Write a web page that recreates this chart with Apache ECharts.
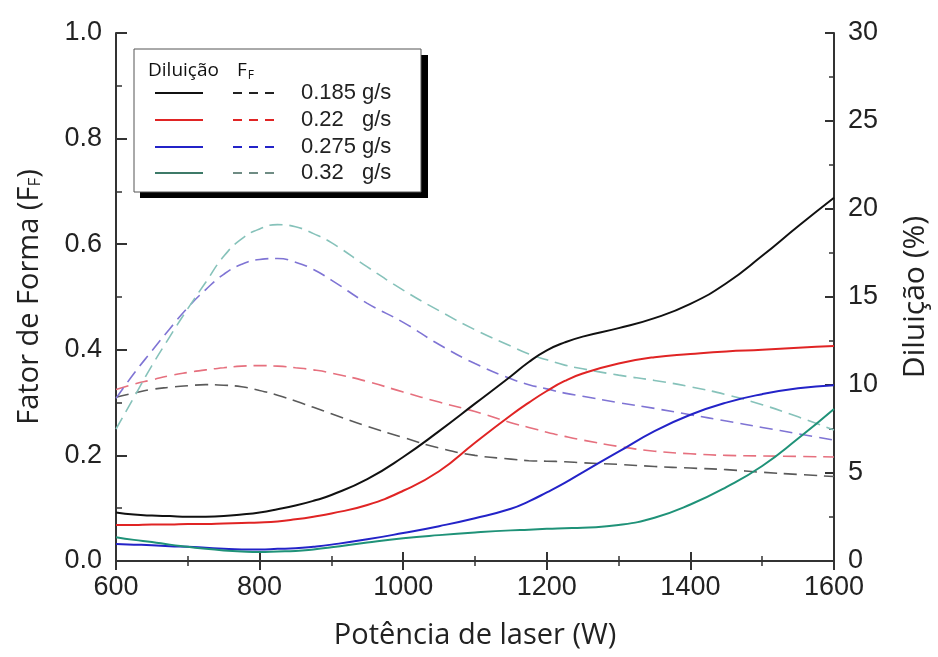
<!DOCTYPE html>
<html>
<head>
<meta charset="utf-8">
<script src="https://cdn.jsdelivr.net/npm/echarts@6/dist/echarts.min.js"></script>
<style>
  html, body { margin: 0; padding: 0; background: #fff; }
  #chart { width: 938px; height: 657px; }
</style>
</head>
<body>
<div id="chart"></div>
<script>
// potencia de laser (W)
var potencia = [600, 625, 650, 675, 700, 725, 750, 775, 800, 825, 850, 875, 900, 950,
                1000, 1050, 1100, 1150, 1175, 1200, 1225, 1250, 1300, 1350, 1400,
                1450, 1500, 1550, 1600];

var dil185 = [0.092, 0.088, 0.086, 0.085, 0.084, 0.084, 0.085, 0.088, 0.092, 0.098, 0.105, 0.114, 0.125, 0.155,
              0.197, 0.246, 0.298, 0.350, 0.377, 0.399, 0.414, 0.425, 0.441, 0.460, 0.487,
              0.526, 0.578, 0.634, 0.688];
var dil22  = [0.068, 0.068, 0.069, 0.069, 0.070, 0.070, 0.071, 0.072, 0.073, 0.075, 0.079, 0.084, 0.090, 0.106,
              0.133, 0.170, 0.224, 0.276, 0.300, 0.322, 0.341, 0.355, 0.374, 0.386, 0.392,
              0.397, 0.400, 0.404, 0.407];
var dil275 = [0.032, 0.031, 0.030, 0.028, 0.027, 0.025, 0.023, 0.022, 0.022, 0.023, 0.024, 0.027, 0.031, 0.041,
              0.053, 0.066, 0.081, 0.099, 0.113, 0.130, 0.148, 0.168, 0.207, 0.246, 0.277,
              0.300, 0.316, 0.327, 0.333];
var dil32  = [0.045, 0.040, 0.036, 0.031, 0.027, 0.023, 0.020, 0.018, 0.017, 0.018, 0.019, 0.022, 0.026, 0.035,
              0.043, 0.049, 0.054, 0.058, 0.059, 0.061, 0.062, 0.063, 0.068, 0.082, 0.107,
              0.140, 0.180, 0.232, 0.288];

// Fator de forma - linhas tracejadas
var ff185 = [0.310, 0.318, 0.325, 0.329, 0.332, 0.334, 0.333, 0.330, 0.323, 0.314, 0.303, 0.291, 0.279, 0.255,
             0.234, 0.214, 0.200, 0.193, 0.190, 0.189, 0.188, 0.186, 0.183, 0.179, 0.176,
             0.173, 0.168, 0.164, 0.160];
var ff22  = [0.325, 0.335, 0.343, 0.351, 0.357, 0.362, 0.366, 0.369, 0.370, 0.369, 0.366, 0.362, 0.356, 0.340,
             0.320, 0.301, 0.283, 0.262, 0.253, 0.244, 0.236, 0.229, 0.217, 0.208, 0.203,
             0.200, 0.199, 0.198, 0.197];
var ff275 = [0.308, 0.355, 0.398, 0.440, 0.480, 0.514, 0.543, 0.562, 0.571, 0.573, 0.566, 0.552, 0.532, 0.488,
             0.452, 0.410, 0.374, 0.345, 0.334, 0.326, 0.318, 0.312, 0.300, 0.289, 0.277,
             0.265, 0.253, 0.241, 0.229];
var ff32  = [0.250, 0.310, 0.370, 0.425, 0.478, 0.528, 0.577, 0.610, 0.629, 0.637, 0.633, 0.620, 0.603, 0.557,
             0.513, 0.474, 0.438, 0.407, 0.392, 0.381, 0.371, 0.364, 0.352, 0.342, 0.330,
             0.315, 0.296, 0.273, 0.248];

var legendLabels = ['0.185', '0.22', '0.275', '0.32'];
var solidColors = ['#111111', '#e02424', '#2323c8', '#1f9278'];
var dashColors = ['#5a5a5a', '#e6707e', '#7f74d4', '#86c2ba'];
var legendDashColors = ['#222222', '#e02424', '#2323c8', '#6f8c84'];
var legendSolidColors = ['#111111', '#e02424', '#2323c8', '#3d7a68'];

// escala direita: 0..30 %  <->  esquerda 0..1
var toPct = function(v) { return +(v * 30).toFixed(2); };

var pairs = function(ys, f) {
  return potencia.map(function(x, i) { return [x, f ? f(ys[i]) : ys[i]]; });
};

var dilSeries = [dil185, dil22, dil275, dil32];
var ffSeries = [ff185, ff22, ff275, ff32];

var series = [];
ffSeries.forEach(function(d, i) {
  series.push({
    name: 'FF ' + legendLabels[i],
    type: 'line',
    yAxisIndex: 0,
    data: pairs(d),
    smooth: 0.5,
    showSymbol: false,
    lineStyle: { color: dashColors[i], width: 1.6, type: [13, 7] },
    itemStyle: { color: dashColors[i] },
    z: 2
  });
});
dilSeries.forEach(function(d, i) {
  series.push({
    name: 'Diluição ' + legendLabels[i],
    type: 'line',
    yAxisIndex: 1,
    data: pairs(d, toPct),
    smooth: 0.5,
    showSymbol: false,
    lineStyle: { color: solidColors[i], width: 2 },
    itemStyle: { color: solidColors[i] },
    z: 3
  });
});

// legenda desenhada como caixa com sombra
var legendItems = [
  { type: 'rect', shape: { x: 140, y: 55, width: 288, height: 143 }, style: { fill: '#000' }, z: 10 },
  { type: 'rect', shape: { x: 134, y: 49, width: 287, height: 143 }, style: { fill: '#fff', stroke: '#555', lineWidth: 1 }, z: 11 },
  { type: 'text', x: 148, y: 71, style: { text: 'Diluição', fontFamily: 'Open Sans', fontSize: 19, fill: '#111', verticalAlign: 'middle' }, z: 12 },
  { type: 'text', x: 237, y: 71, style: {
      text: 'F{s|F}', fontFamily: 'Open Sans', fontSize: 19, fill: '#111', verticalAlign: 'middle',
      rich: { s: { fontSize: 12, fontFamily: 'Open Sans', fill: '#111', padding: [9, 0, 0, 1] } }
    }, z: 12 }
];
var rowY = [93, 120, 147, 173];
legendLabels.forEach(function(lbl, i) {
  legendItems.push({ type: 'line', shape: { x1: 155, y1: rowY[i], x2: 203, y2: rowY[i] },
    style: { stroke: legendSolidColors[i], lineWidth: 2 }, z: 12 });
  legendItems.push({ type: 'line', shape: { x1: 233, y1: rowY[i], x2: 274, y2: rowY[i] },
    style: { stroke: legendDashColors[i], lineWidth: 2, lineDash: [9, 7] }, z: 12 });
  legendItems.push({ type: 'text', x: 301, y: rowY[i], style: { text: lbl, fontFamily: 'Liberation Sans', fontSize: 22, fill: '#222', verticalAlign: 'middle' }, z: 12 });
  legendItems.push({ type: 'text', x: 362, y: rowY[i], style: { text: 'g/s', fontFamily: 'Liberation Sans', fontSize: 22, fill: '#222', verticalAlign: 'middle' }, z: 12 });
});

var axisLineStyle = { color: '#333', width: 2 };
var labelStyle = { fontFamily: 'Liberation Sans', fontSize: 27, color: '#222' };
var nameStyle = { fontFamily: 'Open Sans', fontSize: 29, color: '#222' };

var option = {
  animation: false,
  backgroundColor: '#fff',
  grid: { left: 116, right: 100, top: 33, bottom: 96 },
  xAxis: [{
    type: 'value',
    min: 600, max: 1600, interval: 200,
    name: 'Potência de laser (W)',
    nameLocation: 'middle',
    nameGap: 60,
    nameTextStyle: nameStyle,
    axisLine: { show: true, lineStyle: axisLineStyle },
    axisTick: { show: true, inside: true, length: 9, lineStyle: { color: '#333', width: 2 } },
    minorTick: { show: true, splitNumber: 2, length: 5, lineStyle: { color: '#333', width: 1.5 } },
    axisLabel: Object.assign({ margin: 13, formatter: function(v) { return String(v); } }, labelStyle),
    splitLine: { show: false }
  }, {
    type: 'value',
    position: 'top',
    min: 600, max: 1600, interval: 200,
    axisLine: { show: true, lineStyle: axisLineStyle },
    axisTick: { show: true, inside: true, length: 9, lineStyle: { color: '#333', width: 2 } },
    minorTick: { show: true, splitNumber: 2, length: 5, lineStyle: { color: '#333', width: 1.5 } },
    axisLabel: { show: false },
    splitLine: { show: false }
  }],
  yAxis: [{
    type: 'value',
    min: 0, max: 1, interval: 0.2,
    name: 'Fator de Forma (F{s|F})',
    nameLocation: 'middle',
    nameRotate: 90,
    nameGap: 72,
    nameTextStyle: Object.assign({
      rich: { s: { fontFamily: 'Open Sans', fontSize: 17, color: '#222', padding: [12, 0, 0, 0] } }
    }, nameStyle),
    axisLine: { show: true, lineStyle: axisLineStyle },
    axisTick: { show: true, inside: true, length: 11, lineStyle: { color: '#333', width: 2 } },
    minorTick: { show: true, splitNumber: 2, length: 6, lineStyle: { color: '#333', width: 1.5 } },
    axisLabel: Object.assign({ margin: 14, formatter: function(v) { return v.toFixed(1); } }, labelStyle),
    splitLine: { show: false }
  }, {
    type: 'value',
    position: 'right',
    min: 0, max: 30, interval: 5,
    name: 'Diluição (%)',
    nameLocation: 'middle',
    nameRotate: 90,
    nameGap: 66,
    nameTextStyle: Object.assign({}, nameStyle, { fontSize: 30 }),
    axisLine: { show: true, lineStyle: axisLineStyle },
    axisTick: { show: true, inside: true, length: 9, lineStyle: { color: '#333', width: 2 } },
    minorTick: { show: true, splitNumber: 2, length: 5, lineStyle: { color: '#333', width: 1.5 } },
    axisLabel: Object.assign({ margin: 14 }, labelStyle),
    splitLine: { show: false }
  }],
  graphic: legendItems,
  series: series
};

var chart = echarts.init(document.getElementById('chart'));
chart.setOption(option);
</script>
</body>
</html>
